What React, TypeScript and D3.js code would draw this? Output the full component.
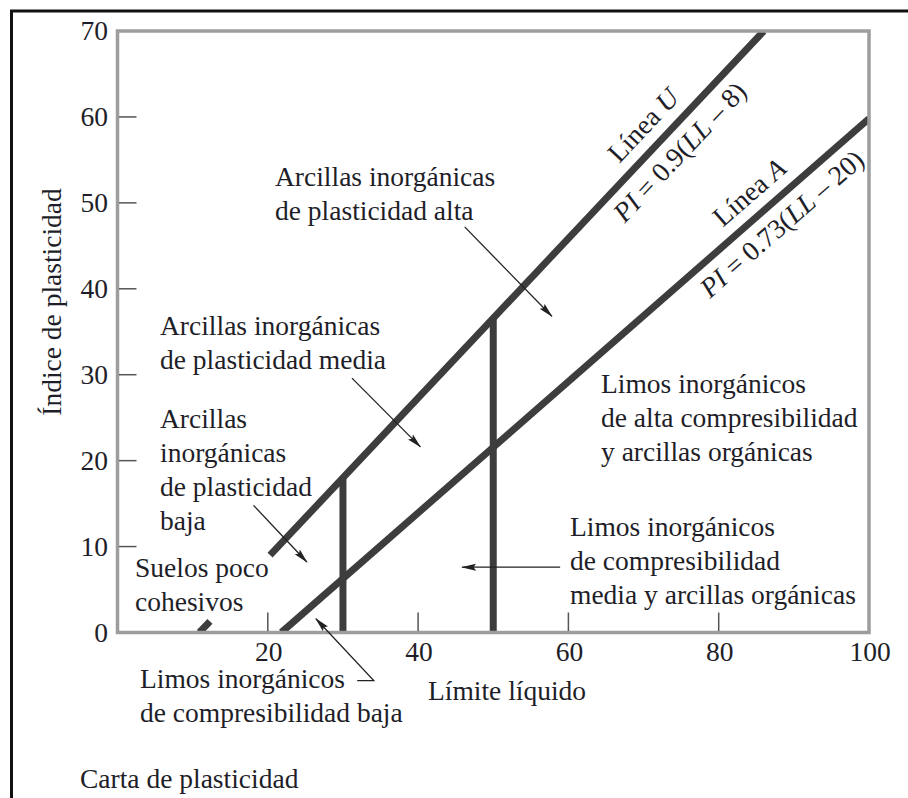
import React from 'react';
import * as d3 from 'd3';

// ---- data ----
const xTicks = [20, 40, 60, 80, 100];
const yTicks = [0, 10, 20, 30, 40, 50, 60, 70];
// Línea U: PI = 0.9(LL - 8) as drawn
const uLine = [{ ll: 20.3, pi: 9.0 }, { ll: 86, pi: 70 }];
const uLineStub = [{ ll: 10.9, pi: 0 }, { ll: 12.3, pi: 1.3 }];
// Línea A: PI = 0.73(LL - 20) as drawn
const aLine = [{ ll: 21.8, pi: 0 }, { ll: 100, pi: 59.8 }];
const verticalLL = [30, 50];

const regionLabels = [
  { lines: ['Arcillas inorgánicas', 'de plasticidad alta'], x: 275, y: 186 },
  { lines: ['Arcillas inorgánicas', 'de plasticidad media'], x: 160, y: 335 },
  { lines: ['Arcillas', 'inorgánicas', 'de plasticidad', 'baja'], x: 160, y: 428 },
  { lines: ['Suelos poco', 'cohesivos'], x: 135, y: 577 },
  { lines: ['Limos inorgánicos', 'de alta compresibilidad', 'y arcillas orgánicas'], x: 601, y: 393 },
  { lines: ['Limos inorgánicos', 'de compresibilidad', 'media y arcillas orgánicas'], x: 570, y: 536 },
  { lines: ['Limos inorgánicos', 'de compresibilidad baja'], x: 140, y: 688 },
];

// arrows in data units (LL, PI): polyline, last point is the tip
const arrows = [
  [{ ll: 46.2, pi: 47.2 }, { ll: 57.8, pi: 36.8 }],
  [{ ll: 31.2, pi: 29.6 }, { ll: 40.3, pi: 21.6 }],
  [{ ll: 18.1, pi: 14.8 }, { ll: 25.2, pi: 8.2 }],
  [{ ll: 31.9, pi: -5.6 }, { ll: 34.1, pi: -5.6 }, { ll: 26.4, pi: 1.6 }],
  [{ ll: 58.9, pi: 7.6 }, { ll: 45.85, pi: 7.6 }],
];

const W = 908;
const H = 798;
const FONT = "'Liberation Serif', 'Times New Roman', serif";
const FS = 27.5;
const TXT = '#1e1e28';
const LINE = '#3d3d3d';

const x = d3.scaleLinear().domain([0, 100]).range([117.5, 869]);
const y = d3.scaleLinear().domain([0, 70]).range([632.5, 31]);

function interp(line: { ll: number; pi: number }[], ll: number) {
  const [a, b] = line;
  return a.pi + ((ll - a.ll) * (b.pi - a.pi)) / (b.ll - a.ll);
}

function angleOf(line: { ll: number; pi: number }[]) {
  const [a, b] = line;
  return (Math.atan2(y(b.pi) - y(a.pi), x(b.ll) - x(a.ll)) * 180) / Math.PI;
}

const lineGen = d3
  .line<{ ll: number; pi: number }>()
  .x((d) => x(d.ll))
  .y((d) => y(d.pi));

function LineLabel({ line, ll, offset, children }: any) {
  const pi = interp(line, ll);
  return (
    <text
      transform={`translate(${x(ll)},${y(pi)}) rotate(${angleOf(line)})`}
      y={offset}
      textAnchor="middle"
      fontFamily={FONT}
      fontSize={FS}
      fill={TXT}
    >
      {children}
    </text>
  );
}

export default function App() {
  const x0 = x(0);
  const y0 = y(0);
  return (
    <svg
      width={W}
      height={H}
      style={{ position: 'absolute', left: 0, top: 0, background: '#fff' }}
    >
      <defs>
        <clipPath id="plot">
          <rect x={x(0)} y={y(70)} width={x(100) - x(0)} height={y(0) - y(70)} />
        </clipPath>
        <marker
          id="ah"
          markerUnits="userSpaceOnUse"
          markerWidth={15}
          markerHeight={8}
          refX={14}
          refY={4}
          orient="auto"
        >
          <path d="M0,0.5 L15,4 L0,7.5 L2.5,4 Z" fill="#222" />
        </marker>
      </defs>

      {/* outer black frame */}
      <path d={`M10,11 H${W}`} stroke="#111" strokeWidth={3} fill="none" />
      <path d={`M11.5,10 V${H}`} stroke="#111" strokeWidth={3} fill="none" />

      {/* classification lines */}
      <g clipPath="url(#plot)" stroke={LINE} strokeWidth={7} fill="none">
        <path d={lineGen(uLine) || ''} />
        <path d={lineGen(uLineStub) || ''} />
        <path d={lineGen(aLine) || ''} />
        {verticalLL.map((ll) => (
          <path
            key={ll}
            d={lineGen([
              { ll, pi: -1 },
              { ll, pi: interp(uLine, ll) },
            ]) || ''}
          />
        ))}
      </g>

      {/* frame */}
      <rect
        x={x(0)}
        y={y(70)}
        width={x(100) - x(0)}
        height={y(0) - y(70)}
        fill="none"
        stroke="#9d9d9d"
        strokeWidth={3.5}
      />

      {/* ticks */}
      {yTicks
        .filter((t) => t > 0 && t < 70)
        .map((t) => (
          <line key={'yt' + t} x1={x0 + 1.5} x2={x0 + 19} y1={y(t)} y2={y(t)} stroke="#555" strokeWidth={1.5} />
        ))}
      {xTicks
        .filter((t) => t < 100)
        .map((t) => (
          <line key={'xt' + t} x1={x(t)} x2={x(t)} y1={y0 - 1.5} y2={y0 - 20} stroke="#555" strokeWidth={1.5} />
        ))}

      {/* tick labels */}
      {yTicks.map((t) => (
        <text
          key={'yl' + t}
          x={108}
          y={y(t) + 9}
          textAnchor="end"
          fontFamily={FONT}
          fontSize={FS}
          fill={TXT}
        >
          {t}
        </text>
      ))}
      {xTicks.map((t) => (
        <text
          key={'xl' + t}
          x={x(t) + 1}
          y={661}
          textAnchor="middle"
          fontFamily={FONT}
          fontSize={FS}
          fill={TXT}
        >
          {t}
        </text>
      ))}

      {/* axis titles */}
      <text x={428} y={700} fontFamily={FONT} fontSize={FS} fill={TXT}>
        Límite líquido
      </text>
      <text
        transform="translate(61,302) rotate(-90)"
        textAnchor="middle"
        fontFamily={FONT}
        fontSize={FS}
        fill={TXT}
      >
        Índice de plasticidad
      </text>
      <text x={80} y={788} fontFamily={FONT} fontSize={FS} fill={TXT}>
        Carta de plasticidad
      </text>

      {/* line labels */}
      <LineLabel line={uLine} ll={72.2} offset={-14}>
        Línea <tspan fontStyle="italic">U</tspan>
      </LineLabel>
      <LineLabel line={uLine} ll={72.7} offset={31}>
        <tspan fontStyle="italic">PI</tspan> = 0.9(<tspan fontStyle="italic">LL</tspan> – 8)
      </LineLabel>
      <LineLabel line={aLine} ll={86.1} offset={-14}>
        Línea <tspan fontStyle="italic">A</tspan>
      </LineLabel>
      <LineLabel line={aLine} ll={86.5} offset={31}>
        <tspan fontStyle="italic">PI</tspan> = 0.73(<tspan fontStyle="italic">LL</tspan> – 20)
      </LineLabel>

      {/* region labels */}
      {regionLabels.map((r, i) => (
        <text key={'r' + i} fontFamily={FONT} fontSize={FS} fill={TXT}>
          {r.lines.map((s, j) => (
            <tspan key={j} x={r.x} y={r.y + j * 34}>
              {s}
            </tspan>
          ))}
        </text>
      ))}

      {/* arrows */}
      {arrows.map((a, i) => (
        <path
          key={'a' + i}
          d={lineGen(a) || ''}
          fill="none"
          stroke="#222"
          strokeWidth={1.3}
          markerEnd="url(#ah)"
        />
      ))}
    </svg>
  );
}
